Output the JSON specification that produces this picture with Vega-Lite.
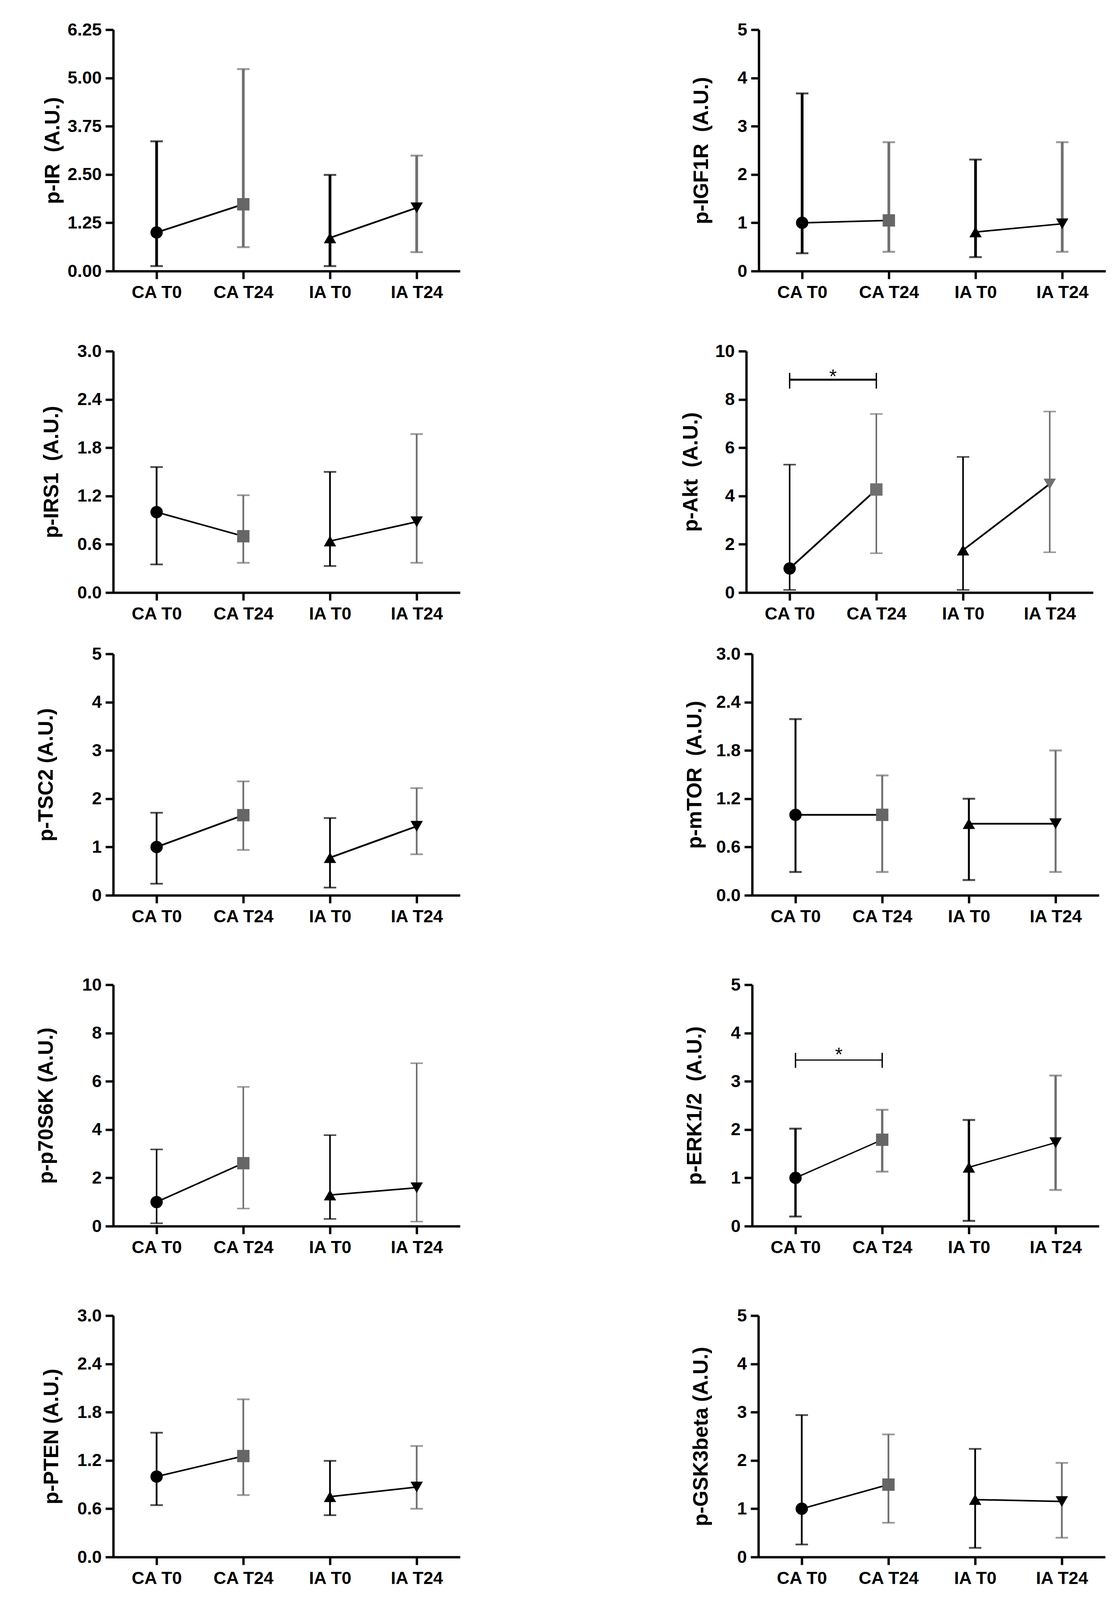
{
  "$schema": "https://vega.github.io/schema/vega-lite/v6.json",
  "background": "white",
  "padding": {"left": 92, "top": 54, "right": 5, "bottom": 5},
  "spacing": 58,
  "vconcat": [
    {
      "spacing": 106,
      "vconcat": [
        {
          "spacing": 592,
          "hconcat": [
            {
              "width": 888, "height": 618,
              "data": {"values": [
                {"cat": "CA T0", "grp": "CA", "time": "T0", "mean": 1.0, "lo": 0.13, "hi": 3.36},
                {"cat": "CA T24", "grp": "CA", "time": "T24", "mean": 1.73, "lo": 0.62, "hi": 5.23},
                {"cat": "IA T0", "grp": "IA", "time": "T0", "mean": 0.86, "lo": 0.13, "hi": 2.49},
                {"cat": "IA T24", "grp": "IA", "time": "T24", "mean": 1.64, "lo": 0.49, "hi": 2.99}
              ]},
              "encoding": {"x": {"field": "cat", "type": "nominal", "title": null, "scale": {"type": "point", "padding": 0.5, "domain": ["CA T0", "CA T24", "IA T0", "IA T24"]}}},
              "layer": [
                {"mark": {"type": "rule", "strokeWidth": 7}, "encoding": {"y": {"field": "lo", "type": "quantitative", "title": "p-IR \u00a0(A.U.)", "scale": {"domain": [0, 6.25], "nice": false}, "axis": {"values": [0, 1.25, 2.5, 3.75, 5, 6.25], "format": ".2f", "titlePadding": 18}}, "y2": {"field": "hi"}, "color": {"field": "time", "type": "nominal", "legend": null, "scale": {"domain": ["T0", "T24"], "range": ["#000000", "#707070"]}}}},
                {"mark": {"type": "tick", "size": 32, "thickness": 5}, "encoding": {"y": {"field": "lo", "type": "quantitative", "title": "p-IR \u00a0(A.U.)"}, "color": {"field": "time", "type": "nominal", "legend": null}}},
                {"mark": {"type": "tick", "size": 32, "thickness": 5}, "encoding": {"y": {"field": "hi", "type": "quantitative", "title": "p-IR \u00a0(A.U.)"}, "color": {"field": "time", "type": "nominal", "legend": null}}},
                {"mark": {"type": "line", "color": "#000000", "strokeWidth": 4.5}, "encoding": {"y": {"field": "mean", "type": "quantitative", "title": "p-IR \u00a0(A.U.)"}, "detail": {"field": "grp"}}},
                {"mark": {"type": "point", "filled": true, "size": 1000, "opacity": 1}, "encoding": {"y": {"field": "mean", "type": "quantitative", "title": "p-IR \u00a0(A.U.)"}, "shape": {"field": "cat", "type": "nominal", "legend": null, "scale": {"domain": ["CA T0", "CA T24", "IA T0", "IA T24"], "range": ["circle", "square", "triangle-up", "triangle-down"]}}, "fill": {"field": "cat", "type": "nominal", "legend": null, "scale": {"domain": ["CA T0", "CA T24", "IA T0", "IA T24"], "range": ["#000000", "#666666", "#000000", "#000000"]}}}}
              ]
            },
            {
              "width": 888, "height": 618,
              "data": {"values": [
                {"cat": "CA T0", "grp": "CA", "time": "T0", "mean": 1.0, "lo": 0.37, "hi": 3.68},
                {"cat": "CA T24", "grp": "CA", "time": "T24", "mean": 1.05, "lo": 0.40, "hi": 2.67},
                {"cat": "IA T0", "grp": "IA", "time": "T0", "mean": 0.81, "lo": 0.29, "hi": 2.31},
                {"cat": "IA T24", "grp": "IA", "time": "T24", "mean": 0.98, "lo": 0.40, "hi": 2.67}
              ]},
              "encoding": {"x": {"field": "cat", "type": "nominal", "title": null, "scale": {"type": "point", "padding": 0.5, "domain": ["CA T0", "CA T24", "IA T0", "IA T24"]}}},
              "layer": [
                {"mark": {"type": "rule", "strokeWidth": 7}, "encoding": {"y": {"field": "lo", "type": "quantitative", "title": "p-IGF1R \u00a0(A.U.)", "scale": {"domain": [0, 5], "nice": false}, "axis": {"values": [0, 1, 2, 3, 4, 5], "format": "d", "titlePadding": 10}}, "y2": {"field": "hi"}, "color": {"field": "time", "type": "nominal", "legend": null, "scale": {"domain": ["T0", "T24"], "range": ["#000000", "#707070"]}}}},
                {"mark": {"type": "tick", "size": 32, "thickness": 5}, "encoding": {"y": {"field": "lo", "type": "quantitative", "title": "p-IGF1R \u00a0(A.U.)"}, "color": {"field": "time", "type": "nominal", "legend": null}}},
                {"mark": {"type": "tick", "size": 32, "thickness": 5}, "encoding": {"y": {"field": "hi", "type": "quantitative", "title": "p-IGF1R \u00a0(A.U.)"}, "color": {"field": "time", "type": "nominal", "legend": null}}},
                {"mark": {"type": "line", "color": "#000000", "strokeWidth": 4}, "encoding": {"y": {"field": "mean", "type": "quantitative", "title": "p-IGF1R \u00a0(A.U.)"}, "detail": {"field": "grp"}}},
                {"mark": {"type": "point", "filled": true, "size": 1000, "opacity": 1}, "encoding": {"y": {"field": "mean", "type": "quantitative", "title": "p-IGF1R \u00a0(A.U.)"}, "shape": {"field": "cat", "type": "nominal", "legend": null, "scale": {"domain": ["CA T0", "CA T24", "IA T0", "IA T24"], "range": ["circle", "square", "triangle-up", "triangle-down"]}}, "fill": {"field": "cat", "type": "nominal", "legend": null, "scale": {"domain": ["CA T0", "CA T24", "IA T0", "IA T24"], "range": ["#000000", "#666666", "#000000", "#000000"]}}}}
              ]
            }
          ]
        },
        {
          "spacing": 565,
          "hconcat": [
            {
              "width": 888, "height": 618,
              "data": {"values": [
                {"cat": "CA T0", "grp": "CA", "time": "T0", "mean": 1.0, "lo": 0.35, "hi": 1.56},
                {"cat": "CA T24", "grp": "CA", "time": "T24", "mean": 0.70, "lo": 0.37, "hi": 1.21},
                {"cat": "IA T0", "grp": "IA", "time": "T0", "mean": 0.64, "lo": 0.33, "hi": 1.50},
                {"cat": "IA T24", "grp": "IA", "time": "T24", "mean": 0.88, "lo": 0.37, "hi": 1.97}
              ]},
              "encoding": {"x": {"field": "cat", "type": "nominal", "title": null, "scale": {"type": "point", "padding": 0.5, "domain": ["CA T0", "CA T24", "IA T0", "IA T24"]}}},
              "layer": [
                {"mark": {"type": "rule", "strokeWidth": 4.5}, "encoding": {"y": {"field": "lo", "type": "quantitative", "title": "p-IRS1 \u00a0(A.U.)", "scale": {"domain": [0, 3], "nice": false}, "axis": {"values": [0, 0.6, 1.2, 1.8, 2.4, 3], "format": ".1f", "titlePadding": 21}}, "y2": {"field": "hi"}, "color": {"field": "time", "type": "nominal", "legend": null, "scale": {"domain": ["T0", "T24"], "range": ["#000000", "#707070"]}}}},
                {"mark": {"type": "tick", "size": 32, "thickness": 4.5}, "encoding": {"y": {"field": "lo", "type": "quantitative", "title": "p-IRS1 \u00a0(A.U.)"}, "color": {"field": "time", "type": "nominal", "legend": null}}},
                {"mark": {"type": "tick", "size": 32, "thickness": 4.5}, "encoding": {"y": {"field": "hi", "type": "quantitative", "title": "p-IRS1 \u00a0(A.U.)"}, "color": {"field": "time", "type": "nominal", "legend": null}}},
                {"mark": {"type": "line", "color": "#000000", "strokeWidth": 4}, "encoding": {"y": {"field": "mean", "type": "quantitative", "title": "p-IRS1 \u00a0(A.U.)"}, "detail": {"field": "grp"}}},
                {"mark": {"type": "point", "filled": true, "size": 1000, "opacity": 1}, "encoding": {"y": {"field": "mean", "type": "quantitative", "title": "p-IRS1 \u00a0(A.U.)"}, "shape": {"field": "cat", "type": "nominal", "legend": null, "scale": {"domain": ["CA T0", "CA T24", "IA T0", "IA T24"], "range": ["circle", "square", "triangle-up", "triangle-down"]}}, "fill": {"field": "cat", "type": "nominal", "legend": null, "scale": {"domain": ["CA T0", "CA T24", "IA T0", "IA T24"], "range": ["#000000", "#666666", "#000000", "#000000"]}}}}
              ]
            },
            {
              "width": 888, "height": 618,
              "data": {"values": [
                {"cat": "CA T0", "grp": "CA", "time": "T0", "mean": 1.0, "lo": 0.11, "hi": 5.30},
                {"cat": "CA T24", "grp": "CA", "time": "T24", "mean": 4.27, "lo": 1.63, "hi": 7.40},
                {"cat": "IA T0", "grp": "IA", "time": "T0", "mean": 1.76, "lo": 0.11, "hi": 5.62},
                {"cat": "IA T24", "grp": "IA", "time": "T24", "mean": 4.50, "lo": 1.67, "hi": 7.50}
              ]},
              "encoding": {"x": {"field": "cat", "type": "nominal", "title": null, "scale": {"type": "point", "padding": 0.5, "domain": ["CA T0", "CA T24", "IA T0", "IA T24"]}}},
              "layer": [
                {"mark": {"type": "rule", "strokeWidth": 4}, "encoding": {"y": {"field": "lo", "type": "quantitative", "title": "p-Akt \u00a0(A.U.)", "scale": {"domain": [0, 10], "nice": false}, "axis": {"values": [0, 2, 4, 6, 8, 10], "format": "d", "titlePadding": 5}}, "y2": {"field": "hi"}, "color": {"field": "time", "type": "nominal", "legend": null, "scale": {"domain": ["T0", "T24"], "range": ["#000000", "#707070"]}}}},
                {"mark": {"type": "tick", "size": 32, "thickness": 4}, "encoding": {"y": {"field": "lo", "type": "quantitative", "title": "p-Akt \u00a0(A.U.)"}, "color": {"field": "time", "type": "nominal", "legend": null}}},
                {"mark": {"type": "tick", "size": 32, "thickness": 4}, "encoding": {"y": {"field": "hi", "type": "quantitative", "title": "p-Akt \u00a0(A.U.)"}, "color": {"field": "time", "type": "nominal", "legend": null}}},
                {"mark": {"type": "line", "color": "#000000", "strokeWidth": 4.5}, "encoding": {"y": {"field": "mean", "type": "quantitative", "title": "p-Akt \u00a0(A.U.)"}, "detail": {"field": "grp"}}},
                {"mark": {"type": "point", "filled": true, "size": 1000, "opacity": 1}, "encoding": {"y": {"field": "mean", "type": "quantitative", "title": "p-Akt \u00a0(A.U.)"}, "shape": {"field": "cat", "type": "nominal", "legend": null, "scale": {"domain": ["CA T0", "CA T24", "IA T0", "IA T24"], "range": ["circle", "square", "triangle-up", "triangle-down"]}}, "color": {"field": "time", "type": "nominal", "legend": null}}},
                {"data": {"values": [{"from": "CA T0", "to": "CA T24", "bar": 8.82, "lo": 8.45, "hi": 9.10, "star": 8.67, "label": "*"}]},
                 "layer": [
                   {"mark": {"type": "rule", "strokeWidth": 5, "color": "#000000"}, "encoding": {"x": {"field": "from", "type": "nominal", "title": null}, "x2": {"field": "to"}, "y": {"field": "bar", "type": "quantitative", "title": "p-Akt \u00a0(A.U.)"}}},
                   {"mark": {"type": "rule", "strokeWidth": 3.5, "color": "#000000"}, "encoding": {"x": {"field": "from", "type": "nominal", "title": null}, "y": {"field": "lo", "type": "quantitative", "title": "p-Akt \u00a0(A.U.)"}, "y2": {"field": "hi"}}},
                   {"mark": {"type": "rule", "strokeWidth": 3.5, "color": "#000000"}, "encoding": {"x": {"field": "to", "type": "nominal", "title": null}, "y": {"field": "lo", "type": "quantitative", "title": "p-Akt \u00a0(A.U.)"}, "y2": {"field": "hi"}}},
                   {"mark": {"type": "text", "dx": 111, "fontSize": 50, "fontWeight": "normal", "font": "Liberation Sans", "baseline": "alphabetic", "align": "center", "color": "#000000"}, "encoding": {"x": {"field": "from", "type": "nominal", "title": null}, "y": {"field": "star", "type": "quantitative", "title": "p-Akt \u00a0(A.U.)"}, "text": {"field": "label"}}}
                 ]}
              ]
            }
          ]
        }
      ]
    },
    {
      "spacing": 130,
      "vconcat": [
        {
          "spacing": 575,
          "hconcat": [
            {
              "width": 888, "height": 618,
              "data": {"values": [
                {"cat": "CA T0", "grp": "CA", "time": "T0", "mean": 1.0, "lo": 0.24, "hi": 1.71},
                {"cat": "CA T24", "grp": "CA", "time": "T24", "mean": 1.66, "lo": 0.94, "hi": 2.36},
                {"cat": "IA T0", "grp": "IA", "time": "T0", "mean": 0.78, "lo": 0.16, "hi": 1.60},
                {"cat": "IA T24", "grp": "IA", "time": "T24", "mean": 1.43, "lo": 0.85, "hi": 2.22}
              ]},
              "encoding": {"x": {"field": "cat", "type": "nominal", "title": null, "scale": {"type": "point", "padding": 0.5, "domain": ["CA T0", "CA T24", "IA T0", "IA T24"]}}},
              "layer": [
                {"mark": {"type": "rule", "strokeWidth": 4.5}, "encoding": {"y": {"field": "lo", "type": "quantitative", "title": "p-TSC2 (A.U.)", "scale": {"domain": [0, 5], "nice": false}, "axis": {"values": [0, 1, 2, 3, 4, 5], "format": "d", "titlePadding": 35}}, "y2": {"field": "hi"}, "color": {"field": "time", "type": "nominal", "legend": null, "scale": {"domain": ["T0", "T24"], "range": ["#000000", "#707070"]}}}},
                {"mark": {"type": "tick", "size": 32, "thickness": 4.5}, "encoding": {"y": {"field": "lo", "type": "quantitative", "title": "p-TSC2 (A.U.)"}, "color": {"field": "time", "type": "nominal", "legend": null}}},
                {"mark": {"type": "tick", "size": 32, "thickness": 4.5}, "encoding": {"y": {"field": "hi", "type": "quantitative", "title": "p-TSC2 (A.U.)"}, "color": {"field": "time", "type": "nominal", "legend": null}}},
                {"mark": {"type": "line", "color": "#000000", "strokeWidth": 4.5}, "encoding": {"y": {"field": "mean", "type": "quantitative", "title": "p-TSC2 (A.U.)"}, "detail": {"field": "grp"}}},
                {"mark": {"type": "point", "filled": true, "size": 1000, "opacity": 1}, "encoding": {"y": {"field": "mean", "type": "quantitative", "title": "p-TSC2 (A.U.)"}, "shape": {"field": "cat", "type": "nominal", "legend": null, "scale": {"domain": ["CA T0", "CA T24", "IA T0", "IA T24"], "range": ["circle", "square", "triangle-up", "triangle-down"]}}, "fill": {"field": "cat", "type": "nominal", "legend": null, "scale": {"domain": ["CA T0", "CA T24", "IA T0", "IA T24"], "range": ["#000000", "#666666", "#000000", "#000000"]}}}}
              ]
            },
            {
              "width": 888, "height": 618,
              "data": {"values": [
                {"cat": "CA T0", "grp": "CA", "time": "T0", "mean": 1.0, "lo": 0.29, "hi": 2.19},
                {"cat": "CA T24", "grp": "CA", "time": "T24", "mean": 1.0, "lo": 0.29, "hi": 1.49},
                {"cat": "IA T0", "grp": "IA", "time": "T0", "mean": 0.89, "lo": 0.19, "hi": 1.20},
                {"cat": "IA T24", "grp": "IA", "time": "T24", "mean": 0.89, "lo": 0.29, "hi": 1.80}
              ]},
              "encoding": {"x": {"field": "cat", "type": "nominal", "title": null, "scale": {"type": "point", "padding": 0.5, "domain": ["CA T0", "CA T24", "IA T0", "IA T24"]}}},
              "layer": [
                {"mark": {"type": "rule", "strokeWidth": 5}, "encoding": {"y": {"field": "lo", "type": "quantitative", "title": "p-mTOR \u00a0(A.U.)", "scale": {"domain": [0, 3], "nice": false}, "axis": {"values": [0, 0.6, 1.2, 1.8, 2.4, 3], "format": ".1f", "titlePadding": 10}}, "y2": {"field": "hi"}, "color": {"field": "time", "type": "nominal", "legend": null, "scale": {"domain": ["T0", "T24"], "range": ["#000000", "#707070"]}}}},
                {"mark": {"type": "tick", "size": 32, "thickness": 5}, "encoding": {"y": {"field": "lo", "type": "quantitative", "title": "p-mTOR \u00a0(A.U.)"}, "color": {"field": "time", "type": "nominal", "legend": null}}},
                {"mark": {"type": "tick", "size": 32, "thickness": 5}, "encoding": {"y": {"field": "hi", "type": "quantitative", "title": "p-mTOR \u00a0(A.U.)"}, "color": {"field": "time", "type": "nominal", "legend": null}}},
                {"mark": {"type": "line", "color": "#000000", "strokeWidth": 4.5}, "encoding": {"y": {"field": "mean", "type": "quantitative", "title": "p-mTOR \u00a0(A.U.)"}, "detail": {"field": "grp"}}},
                {"mark": {"type": "point", "filled": true, "size": 1000, "opacity": 1}, "encoding": {"y": {"field": "mean", "type": "quantitative", "title": "p-mTOR \u00a0(A.U.)"}, "shape": {"field": "cat", "type": "nominal", "legend": null, "scale": {"domain": ["CA T0", "CA T24", "IA T0", "IA T24"], "range": ["circle", "square", "triangle-up", "triangle-down"]}}, "fill": {"field": "cat", "type": "nominal", "legend": null, "scale": {"domain": ["CA T0", "CA T24", "IA T0", "IA T24"], "range": ["#000000", "#666666", "#000000", "#000000"]}}}}
              ]
            }
          ]
        },
        {
          "spacing": 575,
          "hconcat": [
            {
              "width": 888, "height": 618,
              "data": {"values": [
                {"cat": "CA T0", "grp": "CA", "time": "T0", "mean": 1.0, "lo": 0.12, "hi": 3.18},
                {"cat": "CA T24", "grp": "CA", "time": "T24", "mean": 2.61, "lo": 0.73, "hi": 5.77},
                {"cat": "IA T0", "grp": "IA", "time": "T0", "mean": 1.29, "lo": 0.30, "hi": 3.77},
                {"cat": "IA T24", "grp": "IA", "time": "T24", "mean": 1.59, "lo": 0.19, "hi": 6.75}
              ]},
              "encoding": {"x": {"field": "cat", "type": "nominal", "title": null, "scale": {"type": "point", "padding": 0.5, "domain": ["CA T0", "CA T24", "IA T0", "IA T24"]}}},
              "layer": [
                {"mark": {"type": "rule", "strokeWidth": 4}, "encoding": {"y": {"field": "lo", "type": "quantitative", "title": "p-p70S6K (A.U.)", "scale": {"domain": [0, 10], "nice": false}, "axis": {"values": [0, 2, 4, 6, 8, 10], "format": "d", "titlePadding": 35}}, "y2": {"field": "hi"}, "color": {"field": "time", "type": "nominal", "legend": null, "scale": {"domain": ["T0", "T24"], "range": ["#000000", "#707070"]}}}},
                {"mark": {"type": "tick", "size": 32, "thickness": 4}, "encoding": {"y": {"field": "lo", "type": "quantitative", "title": "p-p70S6K (A.U.)"}, "color": {"field": "time", "type": "nominal", "legend": null}}},
                {"mark": {"type": "tick", "size": 32, "thickness": 4}, "encoding": {"y": {"field": "hi", "type": "quantitative", "title": "p-p70S6K (A.U.)"}, "color": {"field": "time", "type": "nominal", "legend": null}}},
                {"mark": {"type": "line", "color": "#000000", "strokeWidth": 4}, "encoding": {"y": {"field": "mean", "type": "quantitative", "title": "p-p70S6K (A.U.)"}, "detail": {"field": "grp"}}},
                {"mark": {"type": "point", "filled": true, "size": 1000, "opacity": 1}, "encoding": {"y": {"field": "mean", "type": "quantitative", "title": "p-p70S6K (A.U.)"}, "shape": {"field": "cat", "type": "nominal", "legend": null, "scale": {"domain": ["CA T0", "CA T24", "IA T0", "IA T24"], "range": ["circle", "square", "triangle-up", "triangle-down"]}}, "fill": {"field": "cat", "type": "nominal", "legend": null, "scale": {"domain": ["CA T0", "CA T24", "IA T0", "IA T24"], "range": ["#000000", "#666666", "#000000", "#000000"]}}}}
              ]
            },
            {
              "width": 888, "height": 618,
              "data": {"values": [
                {"cat": "CA T0", "grp": "CA", "time": "T0", "mean": 1.0, "lo": 0.20, "hi": 2.02},
                {"cat": "CA T24", "grp": "CA", "time": "T24", "mean": 1.79, "lo": 1.13, "hi": 2.41},
                {"cat": "IA T0", "grp": "IA", "time": "T0", "mean": 1.22, "lo": 0.11, "hi": 2.20},
                {"cat": "IA T24", "grp": "IA", "time": "T24", "mean": 1.73, "lo": 0.75, "hi": 3.12}
              ]},
              "encoding": {"x": {"field": "cat", "type": "nominal", "title": null, "scale": {"type": "point", "padding": 0.5, "domain": ["CA T0", "CA T24", "IA T0", "IA T24"]}}},
              "layer": [
                {"mark": {"type": "rule", "strokeWidth": 6}, "encoding": {"y": {"field": "lo", "type": "quantitative", "title": "p-ERK1/2 \u00a0(A.U.)", "scale": {"domain": [0, 5], "nice": false}, "axis": {"values": [0, 1, 2, 3, 4, 5], "format": "d", "titlePadding": 10}}, "y2": {"field": "hi"}, "color": {"field": "time", "type": "nominal", "legend": null, "scale": {"domain": ["T0", "T24"], "range": ["#000000", "#707070"]}}}},
                {"mark": {"type": "tick", "size": 32, "thickness": 5}, "encoding": {"y": {"field": "lo", "type": "quantitative", "title": "p-ERK1/2 \u00a0(A.U.)"}, "color": {"field": "time", "type": "nominal", "legend": null}}},
                {"mark": {"type": "tick", "size": 32, "thickness": 5}, "encoding": {"y": {"field": "hi", "type": "quantitative", "title": "p-ERK1/2 \u00a0(A.U.)"}, "color": {"field": "time", "type": "nominal", "legend": null}}},
                {"mark": {"type": "line", "color": "#000000", "strokeWidth": 3.5}, "encoding": {"y": {"field": "mean", "type": "quantitative", "title": "p-ERK1/2 \u00a0(A.U.)"}, "detail": {"field": "grp"}}},
                {"mark": {"type": "point", "filled": true, "size": 1000, "opacity": 1}, "encoding": {"y": {"field": "mean", "type": "quantitative", "title": "p-ERK1/2 \u00a0(A.U.)"}, "shape": {"field": "cat", "type": "nominal", "legend": null, "scale": {"domain": ["CA T0", "CA T24", "IA T0", "IA T24"], "range": ["circle", "square", "triangle-up", "triangle-down"]}}, "fill": {"field": "cat", "type": "nominal", "legend": null, "scale": {"domain": ["CA T0", "CA T24", "IA T0", "IA T24"], "range": ["#000000", "#666666", "#000000", "#000000"]}}}},
                {"data": {"values": [{"from": "CA T0", "to": "CA T24", "bar": 3.44, "lo": 3.28, "hi": 3.59, "star": 3.415, "label": "*"}]},
                 "layer": [
                   {"mark": {"type": "rule", "strokeWidth": 3, "color": "#000000"}, "encoding": {"x": {"field": "from", "type": "nominal", "title": null}, "x2": {"field": "to"}, "y": {"field": "bar", "type": "quantitative", "title": "p-ERK1/2 \u00a0(A.U.)"}}},
                   {"mark": {"type": "rule", "strokeWidth": 3.5, "color": "#000000"}, "encoding": {"x": {"field": "from", "type": "nominal", "title": null}, "y": {"field": "lo", "type": "quantitative", "title": "p-ERK1/2 \u00a0(A.U.)"}, "y2": {"field": "hi"}}},
                   {"mark": {"type": "rule", "strokeWidth": 3.5, "color": "#000000"}, "encoding": {"x": {"field": "to", "type": "nominal", "title": null}, "y": {"field": "lo", "type": "quantitative", "title": "p-ERK1/2 \u00a0(A.U.)"}, "y2": {"field": "hi"}}},
                   {"mark": {"type": "text", "dx": 111, "fontSize": 50, "fontWeight": "normal", "font": "Liberation Sans", "baseline": "alphabetic", "align": "center", "color": "#000000"}, "encoding": {"x": {"field": "from", "type": "nominal", "title": null}, "y": {"field": "star", "type": "quantitative", "title": "p-ERK1/2 \u00a0(A.U.)"}, "text": {"field": "label"}}}
                 ]}
              ]
            }
          ]
        },
        {
          "spacing": 591,
          "hconcat": [
            {
              "width": 888, "height": 618,
              "data": {"values": [
                {"cat": "CA T0", "grp": "CA", "time": "T0", "mean": 1.0, "lo": 0.645, "hi": 1.545},
                {"cat": "CA T24", "grp": "CA", "time": "T24", "mean": 1.255, "lo": 0.77, "hi": 1.96},
                {"cat": "IA T0", "grp": "IA", "time": "T0", "mean": 0.75, "lo": 0.52, "hi": 1.195},
                {"cat": "IA T24", "grp": "IA", "time": "T24", "mean": 0.87, "lo": 0.60, "hi": 1.38}
              ]},
              "encoding": {"x": {"field": "cat", "type": "nominal", "title": null, "scale": {"type": "point", "padding": 0.5, "domain": ["CA T0", "CA T24", "IA T0", "IA T24"]}}},
              "layer": [
                {"mark": {"type": "rule", "strokeWidth": 4.5}, "encoding": {"y": {"field": "lo", "type": "quantitative", "title": "p-PTEN (A.U.)", "scale": {"domain": [0, 3], "nice": false}, "axis": {"values": [0, 0.6, 1.2, 1.8, 2.4, 3], "format": ".1f", "titlePadding": 21}}, "y2": {"field": "hi"}, "color": {"field": "time", "type": "nominal", "legend": null, "scale": {"domain": ["T0", "T24"], "range": ["#000000", "#707070"]}}}},
                {"mark": {"type": "tick", "size": 32, "thickness": 4.5}, "encoding": {"y": {"field": "lo", "type": "quantitative", "title": "p-PTEN (A.U.)"}, "color": {"field": "time", "type": "nominal", "legend": null}}},
                {"mark": {"type": "tick", "size": 32, "thickness": 4.5}, "encoding": {"y": {"field": "hi", "type": "quantitative", "title": "p-PTEN (A.U.)"}, "color": {"field": "time", "type": "nominal", "legend": null}}},
                {"mark": {"type": "line", "color": "#000000", "strokeWidth": 4}, "encoding": {"y": {"field": "mean", "type": "quantitative", "title": "p-PTEN (A.U.)"}, "detail": {"field": "grp"}}},
                {"mark": {"type": "point", "filled": true, "size": 1000, "opacity": 1}, "encoding": {"y": {"field": "mean", "type": "quantitative", "title": "p-PTEN (A.U.)"}, "shape": {"field": "cat", "type": "nominal", "legend": null, "scale": {"domain": ["CA T0", "CA T24", "IA T0", "IA T24"], "range": ["circle", "square", "triangle-up", "triangle-down"]}}, "fill": {"field": "cat", "type": "nominal", "legend": null, "scale": {"domain": ["CA T0", "CA T24", "IA T0", "IA T24"], "range": ["#000000", "#666666", "#000000", "#000000"]}}}}
              ]
            },
            {
              "width": 888, "height": 618,
              "data": {"values": [
                {"cat": "CA T0", "grp": "CA", "time": "T0", "mean": 1.0, "lo": 0.26, "hi": 2.94},
                {"cat": "CA T24", "grp": "CA", "time": "T24", "mean": 1.50, "lo": 0.71, "hi": 2.54},
                {"cat": "IA T0", "grp": "IA", "time": "T0", "mean": 1.19, "lo": 0.19, "hi": 2.24},
                {"cat": "IA T24", "grp": "IA", "time": "T24", "mean": 1.15, "lo": 0.40, "hi": 1.95}
              ]},
              "encoding": {"x": {"field": "cat", "type": "nominal", "title": null, "scale": {"type": "point", "padding": 0.5, "domain": ["CA T0", "CA T24", "IA T0", "IA T24"]}}},
              "layer": [
                {"mark": {"type": "rule", "strokeWidth": 4.5}, "encoding": {"y": {"field": "lo", "type": "quantitative", "title": "p-GSK3beta (A.U.)", "scale": {"domain": [0, 5], "nice": false}, "axis": {"values": [0, 1, 2, 3, 4, 5], "format": "d", "titlePadding": 10}}, "y2": {"field": "hi"}, "color": {"field": "time", "type": "nominal", "legend": null, "scale": {"domain": ["T0", "T24"], "range": ["#000000", "#707070"]}}}},
                {"mark": {"type": "tick", "size": 32, "thickness": 4.5}, "encoding": {"y": {"field": "lo", "type": "quantitative", "title": "p-GSK3beta (A.U.)"}, "color": {"field": "time", "type": "nominal", "legend": null}}},
                {"mark": {"type": "tick", "size": 32, "thickness": 4.5}, "encoding": {"y": {"field": "hi", "type": "quantitative", "title": "p-GSK3beta (A.U.)"}, "color": {"field": "time", "type": "nominal", "legend": null}}},
                {"mark": {"type": "line", "color": "#000000", "strokeWidth": 4}, "encoding": {"y": {"field": "mean", "type": "quantitative", "title": "p-GSK3beta (A.U.)"}, "detail": {"field": "grp"}}},
                {"mark": {"type": "point", "filled": true, "size": 1000, "opacity": 1}, "encoding": {"y": {"field": "mean", "type": "quantitative", "title": "p-GSK3beta (A.U.)"}, "shape": {"field": "cat", "type": "nominal", "legend": null, "scale": {"domain": ["CA T0", "CA T24", "IA T0", "IA T24"], "range": ["circle", "square", "triangle-up", "triangle-down"]}}, "fill": {"field": "cat", "type": "nominal", "legend": null, "scale": {"domain": ["CA T0", "CA T24", "IA T0", "IA T24"], "range": ["#000000", "#666666", "#000000", "#000000"]}}}}
              ]
            }
          ]
        }
      ]
    }
  ],
  "config": {
    "view": {"stroke": null},
    "font": "Liberation Sans",
    "legend": {"disable": true},
    "axis": {
      "grid": false,
      "domainColor": "#000000",
      "domainWidth": 6,
      "tickColor": "#000000",
      "tickWidth": 6,
      "tickSize": 20,
      "labelFont": "Liberation Sans",
      "labelFontWeight": "bold",
      "labelFontSize": 45,
      "labelColor": "#000000",
      "titleFont": "Liberation Sans",
      "titleFontWeight": "bold",
      "titleFontSize": 53,
      "titleColor": "#000000"
    },
    "axisX": {"labelAngle": 0, "labelPadding": 12},
    "axisY": {"labelPadding": 10, "minExtent": 110, "maxExtent": 110}
  }
}
